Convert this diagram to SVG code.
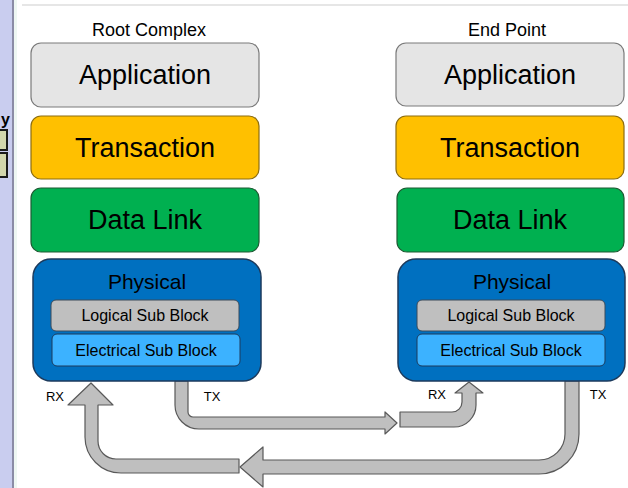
<svg xmlns="http://www.w3.org/2000/svg" width="628" height="488" viewBox="0 0 628 488">
<style>
text{font-family:"Liberation Sans",Arial,sans-serif;fill:#000;text-anchor:middle}
.title{font-size:18px}
.big{font-size:27px}
.phy{font-size:21px}
.sub{font-size:16px}
.lbl{font-size:13px}
.app{fill:#e5e5e5;stroke:#7a7a7a;stroke-width:1.2}
.trn{fill:#ffc000;stroke:#8c6d10;stroke-width:1.2}
.dl{fill:#00b050;stroke:#1d5b33;stroke-width:1.2}
.phys{fill:#0070c0;stroke:#1c3a5c;stroke-width:1.5}
.log{fill:#bfbfbf;stroke:#3a4a5a;stroke-width:1}
.ele{fill:#3cb2ff;stroke:#1c3a5c;stroke-width:1}
.arr{fill:#bfbfbf;stroke:#595959;stroke-width:1.2;stroke-linejoin:round}
</style>
<rect width="628" height="488" fill="#fff"/>
<g id="sidebar">
<rect x="0" y="0" width="12" height="488" fill="#c9cdef"/>
<rect x="12" y="0" width="2" height="488" fill="#8b8ca6"/>
<rect x="14" y="0" width="3" height="488" fill="#eef7f3"/>
<text x="1" y="125" style="font-size:16px;font-weight:bold;text-anchor:start">y</text>
<rect x="-4" y="130" width="11" height="20" fill="#d2d6ac" stroke="#1a1a1a" stroke-width="2"/>
<rect x="-4" y="153" width="11" height="24" fill="#d2d6ac" stroke="#1a1a1a" stroke-width="2"/>
</g>
<line x1="22" y1="5" x2="628" y2="5" stroke="#e6e6e6" stroke-width="2"/>
<g id="titles">
<text class="title" x="149" y="36">Root Complex</text>
<text class="title" x="507" y="36">End Point</text>
</g>
<g id="connectors">
<path id="tx-rc" class="arr" d="M175,381 V405 A24,24 0 0 0 199,429 H385 V434 L397,423 L385,412 V417 H193 A5,5 0 0 1 188,412 V381 Z"/>
<path id="rx-ep" class="arr" d="M476,393 V405 A22,22 0 0 1 454,427 H400 V412 H452 A10,10 0 0 0 462,402 V393 H455 L469,382 L483,393 Z"/>
<path id="tx-ep" class="arr" d="M579,381 V434 A40,40 0 0 1 539,474 H263 V487 L240,467 L263,447 V460 H539 A26,26 0 0 0 565,434 V381 Z"/>
<path id="rx-rc" class="arr" d="M239,473 H121 A36,36 0 0 1 85,437 V405 H68 L91,383 L113,405 H98 V441 A18,18 0 0 0 116,459 H239 Z"/>
</g>
<g id="labels">
<text class="lbl" x="55" y="401">RX</text>
<text class="lbl" x="212" y="401">TX</text>
<text class="lbl" x="437" y="399">RX</text>
<text class="lbl" x="598" y="399">TX</text>
</g>
<g id="rc-application"><rect class="app" x="31" y="43" width="228" height="64" rx="10"/><text class="big" x="145" y="84">Application</text></g>
<g id="rc-transaction"><rect class="trn" x="31" y="116" width="228" height="63" rx="10"/><text class="big" x="145" y="157">Transaction</text></g>
<g id="rc-datalink"><rect class="dl" x="31" y="188" width="228" height="64" rx="10"/><text class="big" x="145" y="229">Data Link</text></g>
<g id="rc-physical">
<rect class="phys" x="33" y="259" width="228" height="122" rx="18"/>
<text class="phy" x="147" y="289">Physical</text>
<rect class="log" x="51" y="300" width="188" height="31" rx="5"/>
<text class="sub" x="145" y="321">Logical Sub Block</text>
<rect class="ele" x="52" y="334" width="188" height="32" rx="5"/>
<text class="sub" x="146" y="356">Electrical Sub Block</text>
</g>
<g id="ep-application"><rect class="app" x="396" y="43" width="228" height="63" rx="10"/><text class="big" x="510" y="84">Application</text></g>
<g id="ep-transaction"><rect class="trn" x="396" y="116" width="228" height="63" rx="10"/><text class="big" x="510" y="157">Transaction</text></g>
<g id="ep-datalink"><rect class="dl" x="397" y="188" width="227" height="64" rx="10"/><text class="big" x="510" y="229">Data Link</text></g>
<g id="ep-physical">
<rect class="phys" x="398" y="259" width="227" height="122" rx="18"/>
<text class="phy" x="512" y="289">Physical</text>
<rect class="log" x="417" y="300" width="188" height="31" rx="5"/>
<text class="sub" x="511" y="321">Logical Sub Block</text>
<rect class="ele" x="417" y="334" width="188" height="32" rx="5"/>
<text class="sub" x="511" y="356">Electrical Sub Block</text>
</g>
</svg>
